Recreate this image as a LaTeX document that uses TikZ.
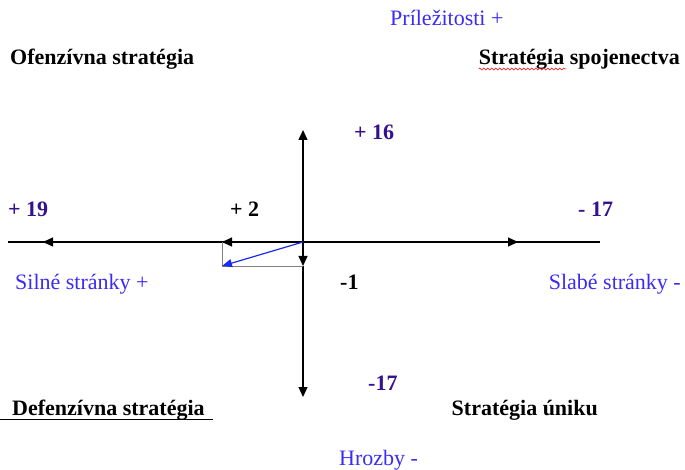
\documentclass[tikz,border=0pt]{standalone}
\usepackage{fontspec}
\setmainfont{Liberation Serif}
\usepackage{xcolor}
\definecolor{LabelBlue}{HTML}{3A2BF5}
\definecolor{ScoreIndigo}{HTML}{34118F}
\definecolor{VectorBlue}{HTML}{1A2BF0}
\usepackage{tikz}
\usetikzlibrary{arrows.meta,decorations.pathmorphing}
\tikzset{
  quadtitle/.style={
    font=\fontsize{22}{24}\selectfont\bfseries,
    inner sep=0pt
  },
  sidelabel/.style={
    text=LabelBlue,
    font=\fontsize{22}{24}\selectfont,
    inner sep=0pt
  },
  score/.style={
    text=ScoreIndigo,
    font=\fontsize{22}{24}\selectfont\bfseries,
    inner sep=0pt
  },
  axisline/.style={
    draw=black,
    line width=1.3pt
  },
  axisarrow/.style={
    draw=black,
    line width=1.3pt,
    -{Triangle[length=10pt,width=9pt]}
  },
  helpline/.style={
    draw=gray,
    line width=0.8pt
  },
  vectorline/.style={
    draw=VectorBlue,
    line width=1.2pt,
    -{Triangle[length=10pt,width=8pt]}
  }
}

\begin{document}
\begin{tikzpicture}[x=1pt,y=-1pt]
  \useasboundingbox (0,0) rectangle (685,470);
  % axes
  \coordinate (o) at (303,242);
  \coordinate (west) at (8,242);
  \coordinate (east) at (600,242);
  \coordinate (plus19) at (43,242);
  \coordinate (plus2) at (222,242);
  \coordinate (minus17h) at (518,242);
  \coordinate (plus16) at (303,130);
  \coordinate (minus17v) at (303,397);
  \coordinate (minus1) at (303,266);
  \coordinate (result) at (222,266);
  \draw[axisline] (west) -- (east);
  \draw[axisarrow] (plus2) -- (plus19);
  \draw[axisarrow] (o) -- (plus2);
  \draw[axisarrow] (o) -- (minus17h);
  \draw[axisarrow] (o) -- (plus16);
  \draw[axisarrow] (minus1) -- (minus17v);
  \draw[helpline] (plus2) -- (result) -- (minus1);
  \draw[axisarrow] (o) -- (minus1);
  \draw[vectorline] (o) -- (result);
  % axis labels
  \node[sidelabel,anchor=base west] (opp) at (390,26) {Príležitosti +};
  \node[sidelabel,anchor=base west] (threat) at (339,465) {Hrozby -};
  \node[sidelabel,anchor=base west] (strength) at (15,289) {Silné stránky +};
  \node[sidelabel,anchor=base east] (weak) at (681,289) {Slabé stránky -};
  % scores
  \node[score,anchor=base west] (s16) at (354,140) {+ 16};
  \node[score,anchor=base west] (s19) at (8,217) {+ 19};
  \node[score,anchor=base west] (s17h) at (578,217) {- 17};
  \node[score,anchor=base west] (s17v) at (368,390) {-17};
  \node[quadtitle,anchor=base west] (s2) at (230,217) {+ 2};
  \node[quadtitle,anchor=base west] (s1) at (340,290) {-1};
  % quadrants
  \node[quadtitle,anchor=base west] (offense) at (10,65) {Ofenzívna stratégia};
  \node[quadtitle,anchor=base east] (alliance) at (680,65) {Stratégia spojenectva};
  \node[quadtitle,anchor=base west] (defense) at (12,415) {Defenzívna stratégia};
  \node[quadtitle,anchor=base east] (escape) at (598,415) {Stratégia úniku};
  \draw[black,line width=1.2pt] (0,419.5) -- (213,419.5);
  \draw[red,line width=0.5pt,decorate,decoration={snake,amplitude=1pt,segment length=4pt}]
    (alliance.base west) ++(0,4) -- ++(88,0);
\end{tikzpicture}
\end{document}
